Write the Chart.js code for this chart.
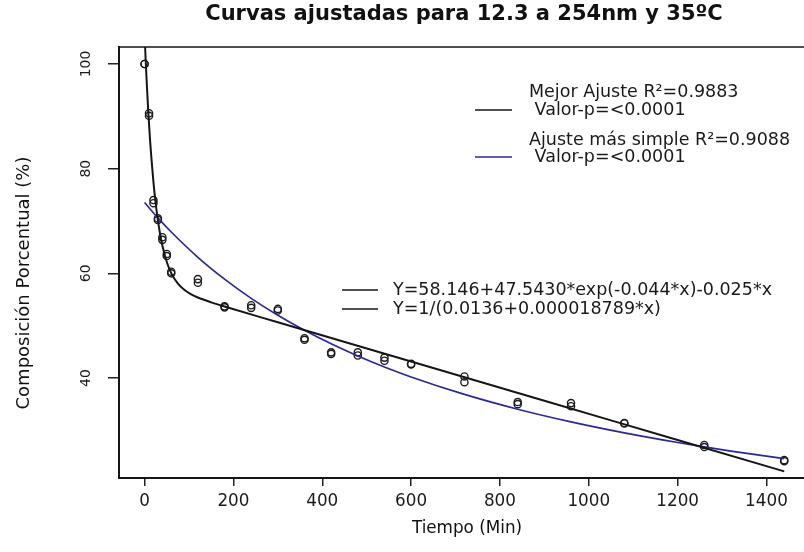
<!DOCTYPE html>
<html>
<head>
<meta charset="utf-8">
<script src="https://cdn.jsdelivr.net/npm/chart.js@4/dist/chart.umd.min.js"></script>
<style>
  html, body { margin: 0; padding: 0; background: #fff; overflow: hidden; }
  canvas { display: block; }
</style>
</head>
<body>
<canvas id="c" width="804" height="552"></canvas>
<script>
// Sampling times (min) and two replicate measurements of percent composition
const timeMin  = [0, 10, 20, 30, 40, 50, 60, 120, 180, 240, 300, 360, 420, 480, 540, 600, 720, 840, 960, 1080, 1260, 1440];
const compRepA = [100.0, 90.6, 74.0, 70.5, 66.9, 63.7, 60.3, 58.9, 53.7, 53.9, 53.2, 47.6, 44.9, 44.9, 43.9, 42.7, 40.3, 35.4, 35.2, 31.4, 27.2, 24.3];
const compRepB = [100.0, 90.1, 73.4, 70.2, 66.4, 63.3, 60.0, 58.2, 53.5, 53.4, 52.9, 47.3, 44.6, 44.3, 43.3, 42.6, 39.2, 35.0, 34.6, 31.3, 26.8, 24.1];

// Best fit curve (exponential + linear term)
const bestFitX = [0, 1, 2, 3, 5, 7.5, 10, 12.5, 15, 20, 25, 30, 35, 40, 50, 60, 75, 90, 105, 120, 150, 180, 300, 600, 900, 1200, 1440];
const bestFitY = [105.69, 103.62, 101.63, 99.74, 96.18, 92.14, 88.52, 85.26, 82.34, 77.37, 73.35, 70.10, 67.46, 65.33, 62.16, 60.04, 58.02, 56.80, 55.99, 55.39, 54.46, 53.66, 50.65, 43.15, 35.65, 28.15, 22.15];

// Simpler fit curve (reciprocal model)
const simpleFitX = [0, 30, 60, 120, 180, 240, 300, 360, 420, 480, 540, 600, 720, 840, 960, 1080, 1200, 1260, 1320, 1440];
const simpleFitY = [73.53, 70.60, 67.90, 63.07, 58.89, 55.22, 51.98, 49.11, 46.53, 44.21, 42.11, 40.20, 36.86, 34.03, 31.61, 29.51, 27.67, 26.83, 26.04, 24.60];

const xTickValues = [0, 200, 400, 600, 800, 1000, 1200, 1400];
const xTickLabels = ['0', '200', '400', '600', '800', '1000', '1200', '1400'];
const yTickValues = [40, 60, 80, 100];
const yTickLabels = ['40', '60', '80', '100'];

const titleText = 'Curvas ajustadas para 12.3 a 254nm y 35ºC';
const xTitle = 'Tiempo (Min)';
const yTitle = 'Composición Porcentual (%)';
const fitLegendLines = [
  ['Mejor Ajuste R²=0.9883', ' Valor-p=<0.0001'],
  ['Ajuste más simple R²=0.9088', ' Valor-p=<0.0001']
];
const equationLines = [
  'Y=58.146+47.5430*exp(-0.044*x)-0.025*x',
  'Y=1/(0.0136+0.000018789*x)'
];

const BLACK = '#161616';
const BLUE = '#28299a';
const FONT = '"DejaVu Sans", sans-serif';

const toPts = (xs, ys) => xs.map((x, i) => ({ x: x, y: ys[i] }));

// Title, box top edge, axis captions and the two legend blocks
const overlay = {
  id: 'overlay',
  afterDraw(chart) {
    const { ctx, chartArea: a } = chart;
    ctx.save();
    ctx.strokeStyle = BLACK;
    ctx.lineWidth = 1.5;
    ctx.beginPath();
    ctx.moveTo(a.left, a.top);
    ctx.lineTo(a.right, a.top);
    ctx.stroke();

    ctx.fillStyle = '#111';
    ctx.textAlign = 'center';
    ctx.textBaseline = 'middle';
    ctx.font = 'bold 21px ' + FONT;
    ctx.fillText(titleText, 464, 15);

    ctx.font = '16.8px ' + FONT;
    ctx.fillText(xTitle, 467, 529);

    ctx.save();
    ctx.translate(24, 283);
    ctx.rotate(-Math.PI / 2);
    ctx.font = '18px ' + FONT;
    ctx.fillText(yTitle, 0, 0);
    ctx.restore();

    ctx.textAlign = 'left';
    ctx.font = '17.5px ' + FONT;
    ctx.fillStyle = '#1a1a1a';
    // fit quality legend
    const legendRows = [[92, 110], [140, 157]];
    const legendColors = [BLACK, BLUE];
    const legendSwatchY = [110, 157];
    fitLegendLines.forEach((lines, i) => {
      lines.forEach((t, j) => ctx.fillText(t, 529, legendRows[i][j]));
      ctx.strokeStyle = legendColors[i];
      ctx.lineWidth = 1.6;
      ctx.beginPath();
      ctx.moveTo(475, legendSwatchY[i]);
      ctx.lineTo(512, legendSwatchY[i]);
      ctx.stroke();
    });
    // equations legend
    const eqY = [290, 309];
    equationLines.forEach((t, i) => {
      ctx.fillText(t, 393, eqY[i]);
      ctx.strokeStyle = BLACK;
      ctx.lineWidth = 1.4;
      ctx.beginPath();
      ctx.moveTo(342, eqY[i]);
      ctx.lineTo(378, eqY[i]);
      ctx.stroke();
    });
    ctx.restore();
  }
};

const pointStyle = {
  showLine: false,
  pointStyle: 'circle',
  pointRadius: 3.6,
  pointBorderWidth: 1.4,
  pointBorderColor: '#1c1c1c',
  pointBackgroundColor: 'rgba(255,255,255,0)',
  pointHoverRadius: 3.6
};

new Chart(document.getElementById('c'), {
  type: 'scatter',
  data: {
    datasets: [
      {
        label: 'Mejor ajuste',
        data: toPts(bestFitX, bestFitY),
        showLine: true,
        borderColor: BLACK,
        borderWidth: 2,
        pointRadius: 0,
        cubicInterpolationMode: 'monotone'
      },
      {
        label: 'Ajuste más simple',
        data: toPts(simpleFitX, simpleFitY),
        showLine: true,
        borderColor: BLUE,
        borderWidth: 1.7,
        pointRadius: 0,
        cubicInterpolationMode: 'monotone'
      },
      Object.assign({ label: 'Réplica 1', data: toPts(timeMin, compRepA) }, pointStyle),
      Object.assign({ label: 'Réplica 2', data: toPts(timeMin, compRepB) }, pointStyle)
    ]
  },
  options: {
    responsive: false,
    animation: false,
    devicePixelRatio: 1,
    layout: { autoPadding: false, padding: { top: 47, left: 0, right: 0, bottom: 0 } },
    plugins: {
      legend: { display: false },
      title: { display: false },
      tooltip: { enabled: false }
    },
    scales: {
      x: {
        type: 'linear',
        position: 'bottom',
        min: -57.6,
        max: 1484.5,
        afterBuildTicks: s => { s.ticks = xTickValues.map(v => ({ value: v })); },
        afterFit: s => { s.height = 74; s.paddingLeft = 0; s.paddingRight = 0; },
        grid: { drawOnChartArea: false, drawTicks: true, tickLength: 8, color: '#222', lineWidth: 1.5 },
        border: { display: true, color: BLACK, width: 2 },
        ticks: {
          font: { family: FONT, size: 16.8 }, color: '#1a1a1a', padding: 6, maxRotation: 0,
          callback: (v, i) => xTickLabels[i]
        }
      },
      y: {
        type: 'linear',
        position: 'left',
        min: 20.89,
        max: 103.25,
        afterBuildTicks: s => { s.ticks = yTickValues.map(v => ({ value: v })); },
        afterFit: s => { s.width = 119; s.paddingTop = 0; s.paddingBottom = 0; },
        grid: { drawOnChartArea: false, drawTicks: true, tickLength: 11, color: '#222', lineWidth: 1.5 },
        border: { display: true, color: BLACK, width: 2 },
        ticks: {
          font: { family: FONT, size: 14 }, color: '#1a1a1a', minRotation: 90, maxRotation: 90, crossAlign: 'center', padding: 8,
          callback: (v, i) => yTickLabels[i]
        }
      }
    }
  },
  plugins: [overlay]
});
</script>
</body>
</html>
